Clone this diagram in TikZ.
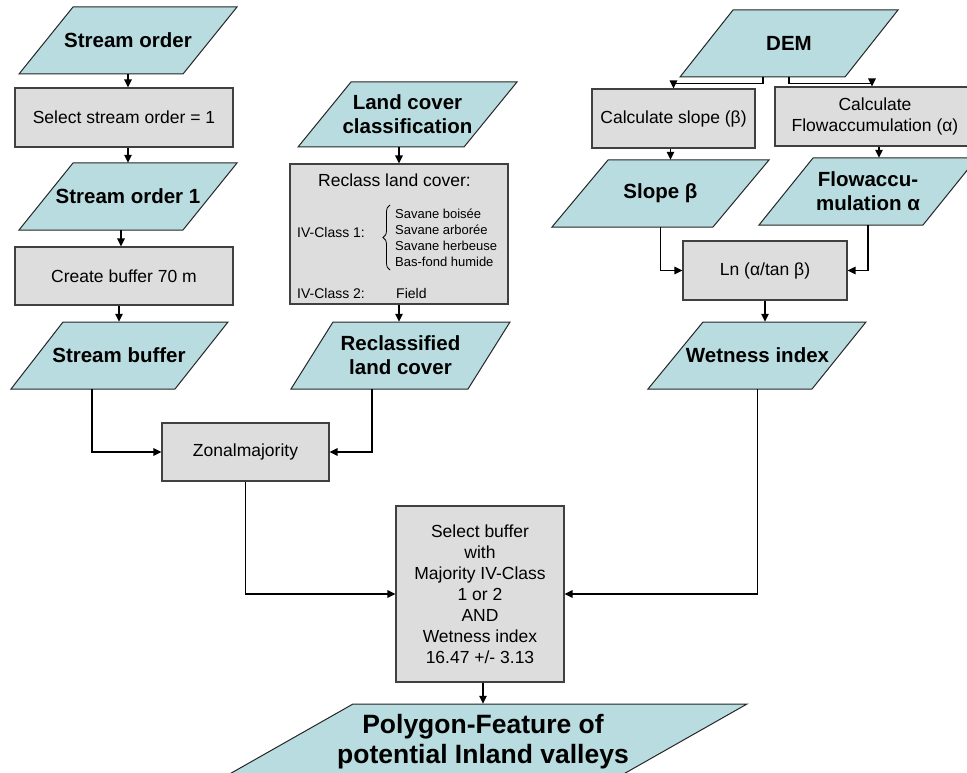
\documentclass[tikz,border=0pt]{standalone}
\usepackage{fontspec}
\setmainfont{Liberation Sans}
\usetikzlibrary{arrows.meta,calc,decorations.pathreplacing}

\definecolor{datafill}{HTML}{B8DCDF}
\definecolor{stepfill}{HTML}{DDDDDD}
\definecolor{edgegray}{HTML}{404040}

\tikzset{
  datashape/.style={fill=datafill, draw=black!85, line width=1pt, line join=miter},
  datalabel/.style={inner sep=0pt, align=center, font=\bfseries\fontsize{20.5}{24}\selectfont},
  stepbox/.style={draw=edgegray, fill=stepfill, line width=1.2pt, align=center,
    inner sep=0pt, font=\fontsize{17.5}{21}\selectfont},
  arr/.style={line width=1.3pt, -{Triangle[length=8pt,width=7.5pt]}},
  smalltext/.style={inner sep=0pt, anchor=west, font=\fontsize{13}{16}\selectfont},
  classtext/.style={inner sep=0pt, anchor=west, font=\fontsize{14}{16}\selectfont},
}

% data object: name, top-left x, top-right x, top y, bottom-left x, bottom-right x, bottom y, label
\newcommand{\dataobj}[8]{%
  \filldraw[datashape] (#2,#4) -- (#3,#4) -- (#6,#7) -- (#5,#7) -- cycle;
  \node[datalabel, minimum height={(#7)-(#4)}] (#1) at ($(#2,#4)!0.5!(#6,#7)$) {#8};
}

\begin{document}
\begin{tikzpicture}[x=1pt,y=-1pt]
\clip (0,0) rectangle (967,773);
\fill[white] (0,0) rectangle (967,773);

% ---------- stream branch ----------
\dataobj{so}{73}{237}{7}{19}{183}{74}{Stream order}
\node[stepbox, minimum width=218, minimum height=59] (sel1) at (124,117.5) {Select stream order = 1};
\dataobj{so1}{73}{237}{163}{19}{183}{230}{Stream order 1}
\node[stepbox, minimum width=218, minimum height=58] (cb) at (124,276) {Create buffer 70 m};
\dataobj{sb}{63}{228}{322}{11}{175}{389}{Stream buffer}

% ---------- land cover branch ----------
\dataobj{lc}{351}{517}{82}{298}{464}{147}{Land cover\\classification}
\node[stepbox, minimum width=218, minimum height=140] (rc) at (399,234) {};
\node[inner sep=0pt, font=\fontsize{17.5}{21}\selectfont] (rctitle) at (394.5,180) {Reclass land cover:};
\node[classtext] (cl1) at (297,232) {IV-Class 1:};
\draw[line width=0.8pt, decorate, decoration={brace, amplitude=7pt}] (390,270) -- (390,205);
\node[smalltext] (it1) at (395,214) {Savane boisée};
\node[smalltext] (it2) at (395,230) {Savane arborée};
\node[smalltext] (it3) at (395,246) {Savane herbeuse};
\node[smalltext] (it4) at (395,262) {Bas-fond humide};
\node[classtext] (cl2) at (297,293) {IV-Class 2:};
\node[classtext] (it5) at (396,293) {Field};
\dataobj{rlc}{333}{510}{322}{291}{468}{389}{Reclassified\\land cover}

\node[stepbox, minimum width=167, minimum height=58] (zm) at (245.5,452) {Zonalmajority};

% ---------- terrain branch ----------
\dataobj{dem}{733}{898}{10}{680}{845}{77}{DEM}
\node[stepbox, minimum width=163, minimum height=59] (cs) at (673.5,118.5) {Calculate slope (β)};
\node[stepbox, minimum width=200, minimum height=59] (cf) at (875,116.5) {Calculate\\Flowaccumulation (α)};
\dataobj{slope}{608}{769}{160}{552}{713}{227}{Slope β}
\dataobj{flow}{813}{977}{158}{759}{923}{225}{Flowaccu-\\mulation α}
\node[stepbox, minimum width=164, minimum height=59] (ln) at (765,270.5) {Ln (α/tan β)};
\dataobj{wet}{703}{866}{322}{648}{812}{389}{Wetness index}

% ---------- final selection ----------
\node[stepbox, minimum width=168, minimum height=176] (sel2) at (480,594)
  {Select buffer\\with\\Majority IV-Class\\1 or 2\\AND\\Wetness index\\16.47 +/- 3.13};
\filldraw[datashape] (353,704) -- (747,704) -- (613,780) -- (219,780) -- cycle;
\node[inner sep=0pt, align=center, minimum height=76,
  font=\bfseries\fontsize{26.5}{30}\selectfont] (poly) at (483,742)
  {Polygon-Feature of\\potential Inland valleys};

% ---------- connectors ----------
\draw[arr] (so.south) -- (so.south |- sel1.north);
\draw[arr] (sel1.south -| so1) -- (so1.north);
\draw[arr] ([xshift=-7]so1.south) -- ([xshift=-7]so1.south |- cb.north);
\draw[arr] (cb.south -| sb) -- (sb.north);
\draw[arr] ([xshift=-27]sb.south) |- (zm.west);

\draw[arr] (lc.south -| rc) -- (rc.north);
\draw[arr] (rc.south) -- (rc.south |- rlc.north);
\draw[arr] ([xshift=-28.5]rlc.south) |- (zm.east);

\draw[arr] (zm.south) |- (sel2.west);

\draw[arr] ([xshift=-26]dem.south) -- ++(0,6) -| (cs.north);
\draw[arr] (dem.south) -- ++(0,6) -| ([xshift=-3]cf.north);
\draw[arr] ([xshift=-3]cs.south) -- ([xshift=-3]cs.south |- slope.north);
\draw[arr] ([xshift=4]cf.south) -- ([xshift=4]cf.south |- flow.north);
\draw[arr] (slope.south) |- (ln.west);
\draw[arr] (flow.south) |- (ln.east);
\draw[arr] (ln.south) -- (ln.south |- wet.north);
\draw[arr] (wet.south) |- (sel2.east);

\draw[arr] (sel2.south -| poly) -- (poly.north);
\end{tikzpicture}
\end{document}
